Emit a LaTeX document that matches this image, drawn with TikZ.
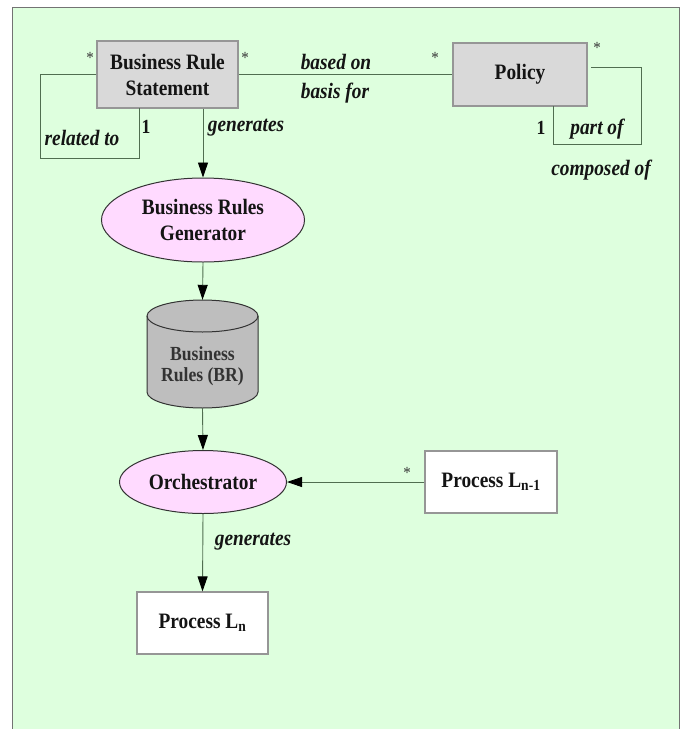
\documentclass[tikz,border=0pt]{standalone}
\usepackage{fontspec}
\setmainfont{Liberation Serif}[FakeStretch=0.88]
\usetikzlibrary{arrows.meta,shapes.geometric}
\definecolor{bggreen}{RGB}{222,255,222}
\definecolor{boxgray}{RGB}{217,217,217}
\definecolor{boxline}{RGB}{150,150,150}
\definecolor{pinkfill}{RGB}{255,218,255}
\definecolor{cylfill}{RGB}{190,190,190}
\definecolor{conn}{RGB}{80,110,80}
\definecolor{txt}{RGB}{20,20,20}
\tikzset{
  big/.style={font=\fontsize{22}{26}\selectfont\bfseries, text=txt},
  graybox/.style={draw=boxline, line width=1.2pt, fill=boxgray, big, align=center, inner sep=0pt},
  whitebox/.style={draw=boxline, line width=1.2pt, fill=white, big, align=center, inner sep=0pt},
  pinkell/.style={ellipse, draw=black!80, line width=1pt, fill=pinkfill, big, align=center, inner sep=0pt},
  lab/.style={font=\fontsize{22}{26}\selectfont\bfseries\itshape, text=txt, inner sep=0pt},
  star/.style={font=\fontsize{17}{18}\selectfont, text=txt!85, inner sep=0pt},
  one/.style={font=\fontsize{20}{24}\selectfont\bfseries, text=txt, inner sep=0pt},
  line/.style={draw=conn, line width=0.9pt},
  arr/.style={line, -{Triangle[length=15pt,width=10pt,color=black]}},
}
\begin{document}
\begin{tikzpicture}[x=1pt,y=-1pt]
\useasboundingbox (0,0) rectangle (684,729);
\fill[white] (0,0) rectangle (684,729);
\draw[fill=bggreen, draw=black!55, line width=1pt] (12,7) rectangle (679,740);

% nodes
\node[graybox, minimum width=141, minimum height=67] (brs) at (167.5,74.5) {Business Rule\\Statement};
\node[graybox, minimum width=134, minimum height=63] (pol) at (520,74.5) {Policy};
\node[pinkell, minimum width=203, minimum height=84] (gen) at (203,220) {Business Rules\\Generator};
\node[inner sep=0pt, minimum width=111, minimum height=108] (br) at (202.5,354) {};
\node[pinkell, minimum width=167, minimum height=63] (orch) at (203,482) {Orchestrator};
\node[whitebox, minimum width=132, minimum height=62] (pln1) at (491,482) {Process L\textsubscript{n-1}};
\node[whitebox, minimum width=131, minimum height=62] (pln) at (202.5,623) {Process L\textsubscript{n}};

% cylinder
\draw[fill=cylfill, draw=black!80, line width=1pt]
  (147,316) -- (147,392) arc[start angle=180, end angle=360, x radius=55.5pt, y radius=16pt]
  -- (258,316) arc[start angle=0, end angle=180, x radius=55.5pt, y radius=16pt] -- cycle;
\draw[draw=black!80, line width=1pt] (147,316) arc[start angle=180, end angle=360, x radius=55.5pt, y radius=16pt];
\node[font=\fontsize{20}{21}\selectfont\bfseries, text=black!80, align=center] (brtext) at (202.5,366) {Business\\Rules (BR)};

% connectors
\coordinate (l1) at (40,74.5);
\coordinate (l2) at (40,158);
\coordinate (l3) at (139,158);
\coordinate (l4) at (139,108);
\draw[line] (brs.west) -- (l1) -- (l2) -- (l3) -- (l4);

\draw[line] (brs.east) -- (pol.west);

\coordinate (p0) at (591,67);
\coordinate (p1) at (641,67);
\coordinate (p2) at (641,144);
\coordinate (p3) at (553,144);
\coordinate (p4) at (553,106);
\draw[line] (p0) -- (p1) -- (p2) -- (p3) -- (p4);

\draw[arr] (brs.south -| gen.north) -- (gen.north);
\draw[arr] (gen.south) -- (br.north);
\draw[arr] (br.south) -- (orch.north);
\draw[arr] (pln1.west) -- (orch.east);
\draw[arr] (orch.south) -- (pln.north);

% labels
\node[star] (s1) at (90,58) {*};
\node[star] (s2) at (245,58) {*};
\node[star] (s3) at (435,58) {*};
\node[star] (s4) at (597,48) {*};
\node[star] (s5) at (407,473) {*};
\node[lab] (t1) at (336,62) {based on};
\node[lab] (t2) at (335,93) {basis for};
\node[lab] (t3) at (82,138) {related to};
\node[one] (o1) at (146,127) {1};
\node[lab] (t4) at (246,128) {generates};
\node[one] (o2) at (541,128) {1};
\node[lab] (t5) at (597,129) {part of};
\node[lab] (t6) at (601,170) {composed of};
\node[lab] (t7) at (253,542) {generates};
\end{tikzpicture}
\end{document}
